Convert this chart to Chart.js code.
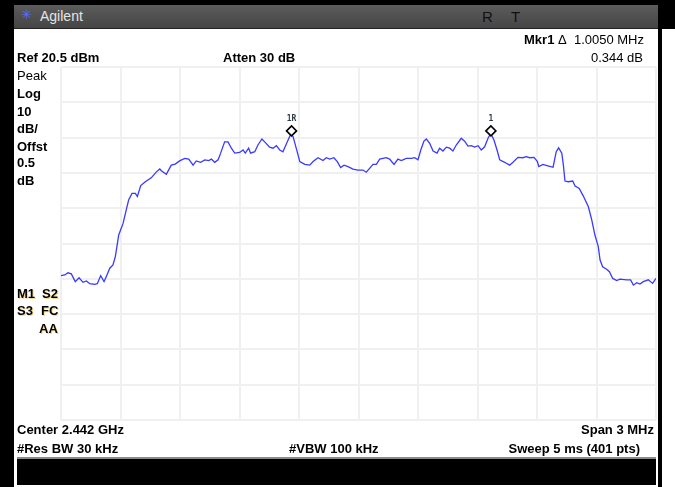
<!DOCTYPE html>
<html>
<head>
<meta charset="utf-8">
<script src="https://cdn.jsdelivr.net/npm/chart.js@4.4.1/dist/chart.umd.min.js"></script>
<style>
  html, body { margin:0; padding:0; background:#fff; }
  #wrap { position:relative; width:675px; height:487px; overflow:hidden; background:#fff;
          font-family:"Liberation Sans", Arial, sans-serif; }
  .blk { position:absolute; background:#000; }
  #bar { position:absolute; left:14px; top:5px; width:644px; height:23px;
         background:linear-gradient(#5c5c5c,#454545); border-bottom:1px solid #222; }
  .t { position:absolute; font-size:13px; font-weight:bold; color:#000; line-height:16px; white-space:nowrap; z-index:3; }
  .r { text-align:right; }
  .n { font-weight:normal; }
  .sh { text-shadow: 1px 1px 0 rgba(230,170,0,0.45); }
  canvas { position:absolute; left:0; top:0; z-index:2; }
</style>
</head>
<body>
<div id="wrap">
  <div class="blk" style="left:0;top:0;width:675px;height:5px"></div>
  <div class="blk" style="left:0;top:0;width:14px;height:487px"></div>
  <div class="blk" style="left:658px;top:0;width:17px;height:29px"></div>
  <div class="blk" style="left:658px;top:0;width:4px;height:487px"></div>
  <div id="bar">
    <span style="position:absolute;left:7px;top:2px;font-size:13px;color:#5a6cff;">✳</span>
    <span style="position:absolute;left:26px;top:3px;font-size:14px;color:#e4e4e4;font-family:'Liberation Sans',Arial,sans-serif;">Agilent</span>
    <span style="position:absolute;left:468px;top:3px;font-size:15px;color:#111;font-family:'Liberation Sans',Arial,sans-serif;">R</span>
    <span style="position:absolute;left:497px;top:3px;font-size:15px;color:#111;font-family:'Liberation Sans',Arial,sans-serif;">T</span>
  </div>
  <div style="position:absolute;left:17px;top:457px;width:639px;height:26px;background:#000;border-top:2px solid #8a8a8a;"></div>

  <div class="t r" style="right:31px;top:32px;">Mkr1 <span class="n">Δ&nbsp;&nbsp;1.0050 MHz</span></div>
  <div class="t" style="left:17px;top:50px;">Ref 20.5 dBm</div>
  <div class="t" style="left:223px;top:50px;">Atten 30 dB</div>
  <div class="t r n" style="right:32px;top:50px;">0.344 dB</div>

  <div class="t n" style="left:17px;top:68px;">Peak</div>
  <div class="t" style="left:17px;top:86px;">Log</div>
  <div class="t" style="left:17px;top:104px;">10</div>
  <div class="t" style="left:17px;top:121px;">dB/</div>
  <div class="t" style="left:17px;top:139px;">Offst</div>
  <div class="t" style="left:17px;top:155px;">0.5</div>
  <div class="t" style="left:17px;top:173px;">dB</div>

  <div class="t sh" style="left:17px;top:286px;">M1</div>
  <div class="t sh" style="left:42px;top:286px;">S2</div>
  <div class="t sh" style="left:17px;top:303px;">S3</div>
  <div class="t sh" style="left:41px;top:303px;">FC</div>
  <div class="t sh" style="left:39px;top:321px;">AA</div>

  <div class="t" style="left:17px;top:422px;">Center 2.442 GHz</div>
  <div class="t r" style="right:21px;top:422px;">Span 3 MHz</div>
  <div class="t" style="left:17px;top:441px;">#Res BW 30 kHz</div>
  <div class="t" style="left:289px;top:441px;">#VBW 100 kHz</div>
  <div class="t r" style="right:35px;top:441px;">Sweep 5 ms (401 pts)</div>

  <canvas id="c" width="675" height="487"></canvas>
</div>
<script>
// Frequency offset from center 2.442 GHz (MHz)
const freqs = [-1.500,-1.481,-1.465,-1.448,-1.428,-1.409,-1.389,-1.372,-1.355,-1.330,
 -1.317,-1.300,-1.283,-1.272,-1.254,-1.238,-1.226,-1.209,-1.187,-1.171,
 -1.159,-1.142,-1.125,-1.115,-1.098,-1.075,-1.045,-1.019,-1.002,-0.994,
 -0.969,-0.944,-0.924,-0.902,-0.876,-0.856,-0.834,-0.818,-0.796,-0.775,
 -0.755,-0.742,-0.725,-0.708,-0.695,-0.675,-0.658,-0.641,-0.624,-0.599,
 -0.582,-0.571,-0.554,-0.544,-0.523,-0.507,-0.487,-0.473,-0.448,-0.431,
 -0.414,-0.397,-0.381,-0.355,-0.342,-0.330,-0.314,-0.296,-0.271,-0.246,
 -0.229,-0.204,-0.179,-0.162,-0.145,-0.124,-0.107,-0.090,-0.073,-0.053,
 -0.028,-0.003,0.023,0.039,0.056,0.073,0.090,0.107,0.140,0.157,
 0.179,0.199,0.216,0.241,0.266,0.283,0.300,0.314,0.330,0.342,
 0.359,0.376,0.396,0.409,0.426,0.443,0.460,0.476,0.493,0.518,
 0.535,0.552,0.569,0.586,0.603,0.619,0.636,0.653,0.667,0.683,
 0.700,0.712,0.737,0.762,0.779,0.804,0.829,0.846,0.863,0.885,
 0.902,0.909,0.930,0.955,0.981,0.997,1.009,1.025,1.033,1.041,
 1.058,1.080,1.092,1.113,1.133,1.159,1.176,1.192,1.209,1.218,
 1.231,1.251,1.265,1.282,1.302,1.318,1.352,1.372,1.386,1.403,
 1.419,1.436,1.461,1.483,1.500];
// Trace level (dBm)
const levels = [-38.6,-38.4,-37.8,-38.1,-40.3,-39.2,-40.5,-40.1,-40.9,-41.1,
 -40.9,-38.6,-40.3,-38.9,-36.5,-35.6,-33.2,-27.1,-23.8,-20.0,
 -17.2,-15.3,-15.3,-16.2,-13.1,-12.0,-10.9,-9.2,-8.4,-8.9,
 -9.9,-7.3,-7.0,-6.1,-5.4,-5.6,-7.3,-6.1,-6.5,-5.8,
 -6.0,-5.6,-6.5,-5.8,-3.9,-0.7,-0.7,-2.5,-3.9,-3.7,
 -3.0,-3.9,-2.5,-3.9,-3.5,-1.6,0.1,-0.7,-2.2,-2.5,
 -1.8,-3.0,-3.5,-0.2,1.4,0.8,-2.5,-6.3,-7.1,-7.3,
 -6.3,-5.2,-6.0,-5.2,-5.6,-5.2,-6.3,-8.0,-7.3,-7.7,
 -8.4,-8.7,-8.7,-9.3,-8.2,-7.1,-7.1,-5.6,-5.2,-5.6,
 -7.1,-5.6,-6.0,-5.4,-5.4,-5.2,-5.8,-3.0,-0.5,0.1,
 -1.1,-3.3,-3.9,-2.5,-3.3,-2.2,-2.5,-3.3,-1.6,0.3,
 -0.5,-1.9,-1.8,-2.2,-1.8,-3.0,-2.1,0.3,1.7,-0.2,
 -3.3,-5.8,-6.5,-7.3,-6.5,-5.1,-5.2,-4.9,-5.2,-5.1,
 -6.3,-7.7,-7.1,-7.5,-7.9,-3.5,-2.4,-3.9,-7.3,-11.8,
 -12.0,-11.8,-13.2,-13.9,-16.0,-19.1,-22.8,-27.1,-30.4,-34.2,
 -36.1,-36.8,-37.5,-39.4,-40.0,-39.6,-39.8,-39.8,-41.3,-40.6,
 -41.0,-40.3,-39.8,-40.8,-39.4];
// Markers
const markerLabels = ['1R', '1'];
const markerFreqs = [-0.3375, 0.6675];
const markerLevels = [2.4, 2.4];
// Grid divisions
const xTicks = [-1.5,-1.2,-0.9,-0.6,-0.3,0,0.3,0.6,0.9,1.2,1.5];
const yTicks = [20.5,10.5,0.5,-9.5,-19.5,-29.5,-39.5,-49.5,-59.5,-69.5,-79.5];

const markerLabelPlugin = {
  id: 'markerLabels',
  afterDatasetsDraw(chart) {
    const ctx = chart.ctx, xs = chart.scales.x, ys = chart.scales.y;
    ctx.save();
    ctx.font = 'bold 8px "DejaVu Sans Mono", monospace';
    ctx.fillStyle = '#2f3d44';
    ctx.textAlign = 'center';
    ctx.textBaseline = 'middle';
    markerLabels.forEach((lab, i) => {
      ctx.fillText(lab, xs.getPixelForValue(markerFreqs[i]), ys.getPixelForValue(markerLevels[i]) - 12);
    });
    ctx.restore();
  }
};

new Chart(document.getElementById('c'), {
  type: 'scatter',
  data: {
    datasets: [{
      type: 'line',
      data: freqs.map((f, i) => ({x: f, y: levels[i]})),
      borderColor: '#3a3aff',
      borderWidth: 1.3,
      pointRadius: 0,
      tension: 0,
      fill: false,
      order: 2
    }, {
      data: markerFreqs.map((f, i) => ({x: f, y: markerLevels[i]})),
      pointStyle: 'rectRot',
      pointRadius: 5,
      borderColor: '#000',
      borderWidth: 1.6,
      backgroundColor: '#fff',
      order: 1
    }]
  },
  options: {
    responsive: false,
    animation: false,
    devicePixelRatio: 1,
    layout: { padding: { left: 61, top: 67, right: 19, bottom: 67 } },
    plugins: { legend: { display: false }, tooltip: { enabled: false } },
    scales: {
      x: {
        type: 'linear', min: -1.5, max: 1.5,
        afterBuildTicks: (axis) => { axis.ticks = xTicks.map(v => ({value: v})); },
        ticks: { display: false },
        grid: { color: '#f0f0f0', lineWidth: 2, drawTicks: false, tickLength: 0 },
        border: { display: false }
      },
      y: {
        type: 'linear', min: -79.5, max: 20.5,
        afterBuildTicks: (axis) => { axis.ticks = yTicks.map(v => ({value: v})); },
        ticks: { display: false },
        grid: { color: '#f0f0f0', lineWidth: 2, drawTicks: false, tickLength: 0 },
        border: { display: false }
      }
    }
  },
  plugins: [markerLabelPlugin]
});
</script>
</body>
</html>
